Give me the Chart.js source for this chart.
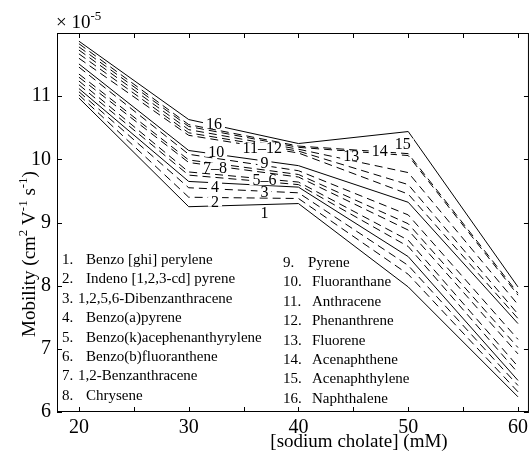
<!DOCTYPE html>
<html>
<head>
<meta charset="utf-8">
<script src="https://cdn.jsdelivr.net/npm/chart.js@4.4.0/dist/chart.umd.min.js"></script>
<style>
  html, body { margin: 0; padding: 0; background: #fff; }
</style>
</head>
<body>
<canvas id="chart" width="532" height="453"></canvas>
<script>
// sodium cholate concentration (mM)
const concentrations = [20, 30, 40, 50, 60];

// mobility, x 10^-5 cm2 V-1 s-1, one array per compound
const s1  = [10.97, 9.25, 9.30, 7.98, 6.24];
const s2  = [11.02, 9.40, 9.38, 8.18, 6.32];
const s3  = [11.07, 9.55, 9.47, 8.32, 6.42];
const s4  = [11.12, 9.65, 9.56, 8.46, 6.50];
const s5  = [11.18, 9.75, 9.60, 8.62, 6.62];
const s6  = [11.24, 9.80, 9.64, 8.72, 6.72];
const s7  = [11.30, 9.95, 9.72, 8.88, 6.92];
const s8  = [11.35, 9.99, 9.76, 8.98, 7.02];
const s9  = [11.46, 10.08, 9.82, 9.12, 7.15];
const s10 = [11.51, 10.14, 9.90, 9.32, 7.40];
const s11 = [11.60, 10.38, 10.10, 9.45, 7.48];
const s12 = [11.67, 10.42, 10.13, 9.60, 7.55];
const s13 = [11.73, 10.47, 10.16, 9.79, 7.70];
const s14 = [11.78, 10.52, 10.19, 10.06, 7.85];
const s15 = [11.83, 10.55, 10.21, 10.09, 7.88];
const s16 = [11.87, 10.63, 10.25, 10.44, 7.98];
const allSeries = [s1, s2, s3, s4, s5, s6, s7, s8, s9, s10, s11, s12, s13, s14, s15, s16];

const compoundNames = [
  "Benzo [ghi] perylene", "Indeno [1,2,3-cd] pyrene", "1,2,5,6-Dibenzanthracene",
  "Benzo(a)pyrene", "Benzo(k)acephenanthyrylene", "Benzo(b)fluoranthene",
  "1,2-Benzanthracene", "Chrysene", "Pyrene", "Fluoranthane", "Anthracene",
  "Phenanthrene", "Fluorene", "Acenaphthene", "Acenaphthylene", "Naphthalene"
];

const xTickValues = [20, 25, 30, 35, 40, 45, 50, 55, 60];
const yTickValues = [6, 7, 8, 9, 10, 11];
const solidSeries = [1, 4, 10, 16];

// tags written on the curves, anchored in data units
const tagTexts = ["16", "11\u201312", "13", "14", "15", "10", "9", "7\u20138", "5\u20136", "4", "3", "2", "1"];
const tagSpots = [
  [32.3, 10.56], [36.7, 10.19], [44.8, 10.05], [47.4, 10.13], [49.5, 10.25],
  [32.5, 10.12], [36.9, 9.95], [32.4, 9.87], [36.9, 9.67], [32.4, 9.57],
  [36.9, 9.48], [32.4, 9.33], [36.9, 9.16]
];

const SERIF = "'Liberation Serif', 'Times New Roman', serif";

function drawRich(ctx, parts, x, y, size, align) {
  const big = size + "px " + SERIF;
  const small = Math.round(size * 0.7) + "px " + SERIF;
  let total = 0;
  parts.forEach(p => { ctx.font = p[1] ? small : big; total += ctx.measureText(p[0]).width; });
  let cx = align === "center" ? x - total / 2 : x;
  ctx.textAlign = "left";
  parts.forEach(p => {
    ctx.font = p[1] ? small : big;
    ctx.fillText(p[0], cx, p[1] ? y - size * 0.42 : y);
    cx += ctx.measureText(p[0]).width;
  });
}

const decorations = {
  id: "decorations",
  afterDatasetsDraw(chart) {
    const ctx = chart.ctx;
    const xs = chart.scales.x, ys = chart.scales.y;
    ctx.save();
    ctx.font = "16px " + SERIF;
    ctx.textAlign = "center";
    ctx.textBaseline = "middle";
    tagTexts.forEach((t, i) => {
      const px = xs.getPixelForValue(tagSpots[i][0]);
      const py = ys.getPixelForValue(tagSpots[i][1]);
      const w = ctx.measureText(t).width;
      ctx.fillStyle = "#fff";
      ctx.fillRect(px - w / 2 - 3, py - 5, w + 6, 10);
      ctx.fillStyle = "#000";
      ctx.fillText(t, px, py + 1);
    });
    ctx.restore();
  },
  afterDraw(chart) {
    const ctx = chart.ctx;
    const a = chart.chartArea;
    const xs = chart.scales.x, ys = chart.scales.y;
    ctx.save();
    ctx.strokeStyle = "#000";
    ctx.lineWidth = 1;
    ctx.strokeRect(a.left + 0.5, a.top + 0.5, a.right - a.left - 1, a.bottom - a.top - 1);

    ctx.beginPath();
    xTickValues.forEach(v => {
      const px = Math.round(xs.getPixelForValue(v)) + 0.5;
      ctx.moveTo(px, a.bottom); ctx.lineTo(px, a.bottom - 5);
      ctx.moveTo(px, a.top); ctx.lineTo(px, a.top + 5);
    });
    yTickValues.forEach(v => {
      const py = Math.round(ys.getPixelForValue(v)) + 0.5;
      ctx.moveTo(a.left, py); ctx.lineTo(a.left + 5, py);
      ctx.moveTo(a.right, py); ctx.lineTo(a.right - 5, py);
    });
    ctx.stroke();

    // legend text, two columns
    ctx.fillStyle = "#000";
    ctx.font = "15px " + SERIF;
    ctx.textBaseline = "middle";
    ctx.textAlign = "left";
    compoundNames.forEach((name, i) => {
      const col = i < 8 ? 0 : 1;
      const row = i % 8;
      const nx = col === 0 ? a.left + 5 : a.left + 226;
      const y = (col === 0 ? a.top + 227 : a.top + 230) + row * 19.4;
      let tx;
      if (col === 0) tx = (i === 2 || i === 6) ? a.left + 21 : a.left + 29;
      else tx = i === 8 ? a.left + 251 : a.left + 255;
      ctx.fillText((i + 1) + ".", nx, y);
      ctx.fillText(name, tx, y);
    });

    // axis titles
    ctx.textBaseline = "alphabetic";
    drawRich(ctx, [["[sodium cholate] (mM)", false]], a.left + 302, a.bottom + 35, 19, "center");
    ctx.save();
    ctx.translate(a.left - 22, a.top + 221);
    ctx.rotate(-Math.PI / 2);
    drawRich(ctx, [["Mobility (cm", false], ["2", true], [" V", false], ["-1", true],
                   [" s", false], ["-1", true], [")", false]], 0, 0, 19, "center");
    ctx.restore();
    drawRich(ctx, [["\u00d7 10", false], ["-5", true]], a.left - 1, a.top - 5, 19, "left");
    ctx.restore();
  }
};

const datasets = allSeries.map((vals, i) => ({
  label: compoundNames[i],
  data: concentrations.map((c, j) => ({ x: c, y: vals[j] })),
  borderColor: "#000",
  borderWidth: 1,
  borderDash: solidSeries.includes(i + 1) ? [] : [8, 5],
  pointRadius: 0,
  fill: false,
  tension: 0,
}));

new Chart(document.getElementById("chart"), {
  type: "line",
  data: { datasets },
  options: {
    responsive: false,
    animation: false,
    layout: { padding: { top: 33, right: 1, left: 0, bottom: 0 } },
    plugins: {
      legend: { display: false },
      tooltip: { enabled: false },
    },
    scales: {
      x: {
        type: "linear",
        min: 18,
        max: 61,
        afterBuildTicks: s => { s.ticks = xTickValues.map(v => ({ value: v })); },
        afterFit: s => { s.height = 41; },
        grid: { display: false, drawTicks: false },
        border: { display: false },
        ticks: {
          color: "#000",
          padding: 4,
          maxRotation: 0,
          autoSkip: false,
          font: { family: SERIF, size: 20 },
          callback: v => (v % 10 === 0 ? String(v) : ""),
        },
      },
      y: {
        type: "linear",
        min: 6,
        max: 12,
        afterBuildTicks: s => { s.ticks = yTickValues.map(v => ({ value: v })); },
        afterFit: s => { s.width = 57; },
        grid: { display: false, drawTicks: false },
        border: { display: false },
        ticks: {
          color: "#000",
          padding: 6,
          autoSkip: false,
          font: { family: SERIF, size: 20 },
        },
      },
    },
  },
  plugins: [decorations],
});
</script>
</body>
</html>
